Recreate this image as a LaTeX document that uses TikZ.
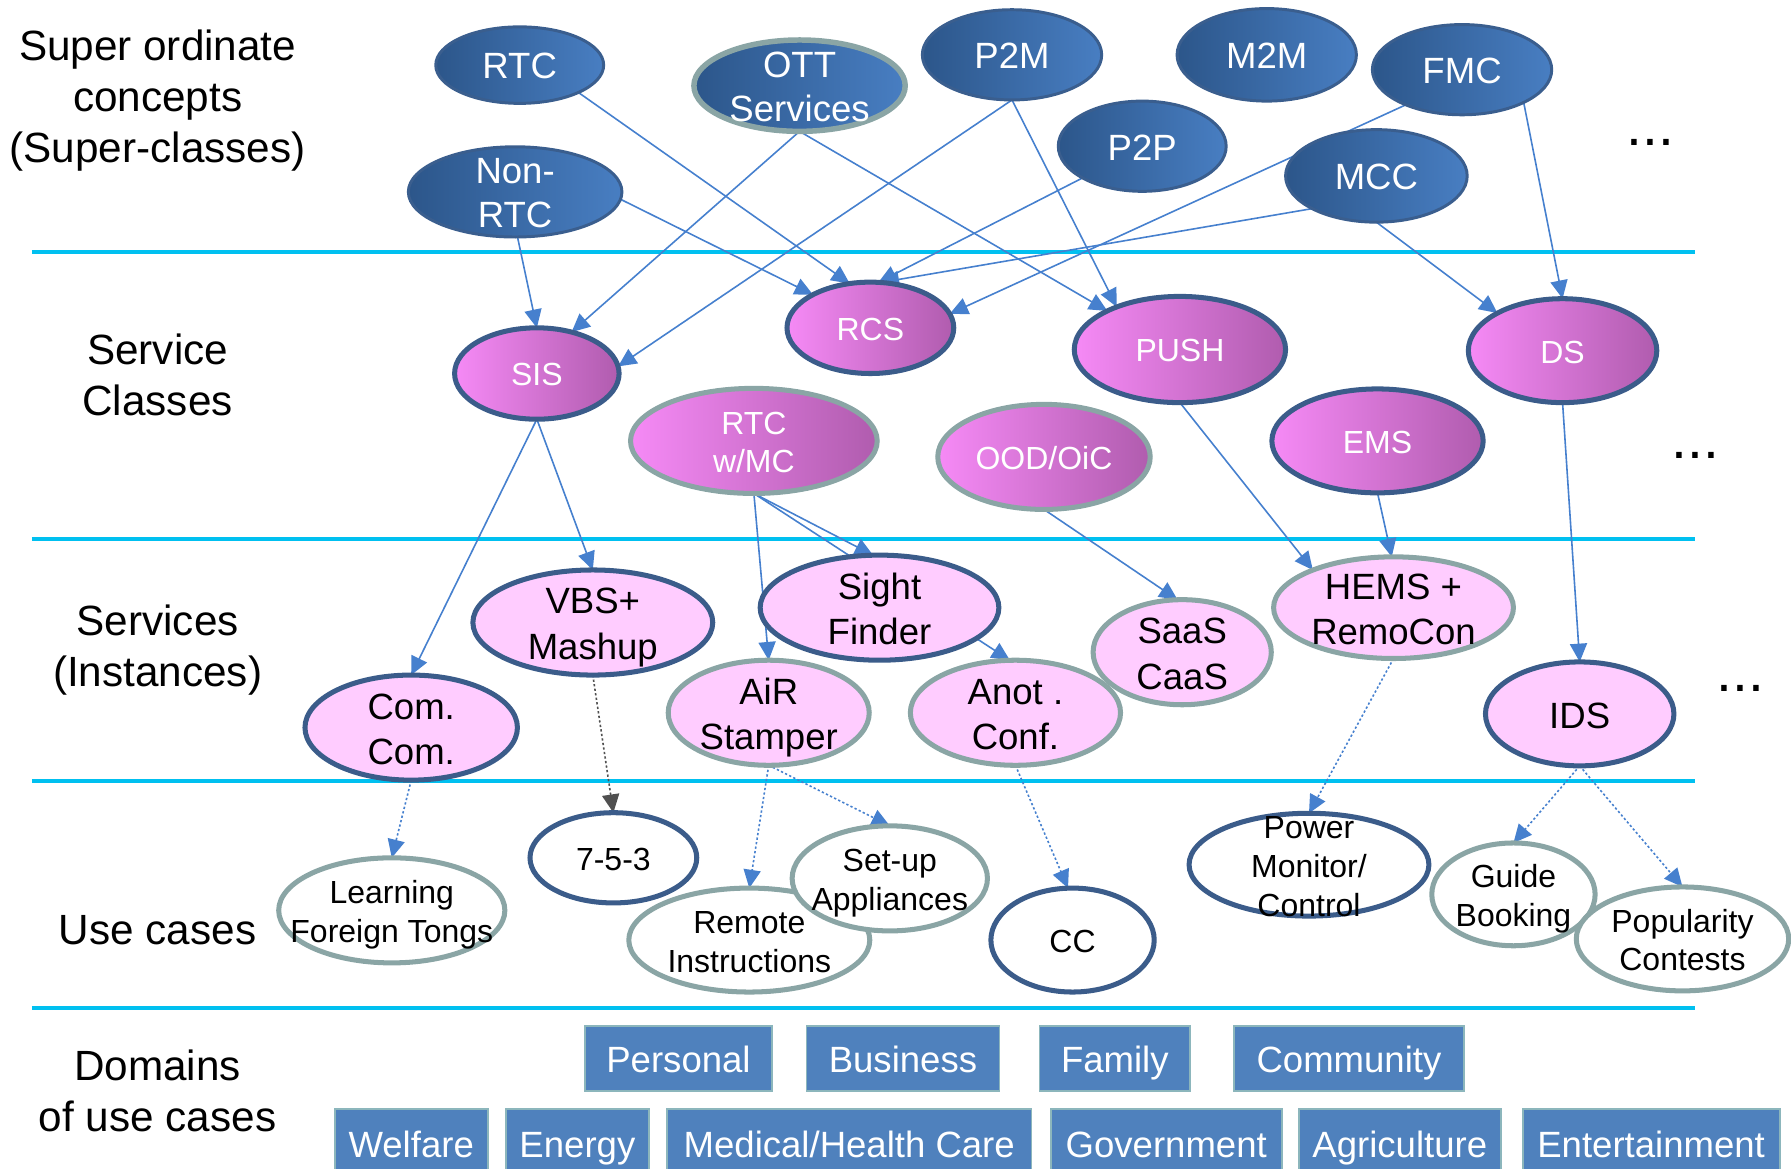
\documentclass[tikz,border=0pt]{standalone}
\usepackage{fontspec}
\setmainfont{Liberation Sans}
\usetikzlibrary{shapes.geometric,arrows.meta}
\pgfdeclarelayer{bg}
\pgfsetlayers{bg,main}
\definecolor{cyanline}{RGB}{0,192,240}
\definecolor{navyL}{RGB}{44,86,138}
\definecolor{navyR}{RGB}{72,126,194}
\definecolor{navyB}{RGB}{58,94,142}
\definecolor{grayB}{RGB}{138,165,165}
\definecolor{magL}{RGB}{246,138,246}
\definecolor{magR}{RGB}{176,92,174}
\definecolor{pinkF}{RGB}{255,204,255}
\definecolor{edgeC}{RGB}{70,128,206}
\definecolor{grayE}{RGB}{80,80,80}
\definecolor{domF}{RGB}{79,129,189}
\definecolor{domB}{RGB}{140,182,188}
\definecolor{darkB}{RGB}{59,92,138}
\newcommand{\nt}[1]{\raisebox{-0.41em}[0pt][0pt]{\makebox[0pt]{\begin{tabular}{@{}c@{}}#1\end{tabular}}}}
\begin{document}
\begin{tikzpicture}[x=0.5pt,y=-0.5pt,
  sz/.style 2 args={minimum width={#1*0.5pt-1.5pt}, minimum height={#2*0.5pt-1.5pt}},
  rsz/.style 2 args={minimum width={#1*0.5pt}, minimum height={#2*0.5pt}},
  base/.style={ellipse, inner sep=0pt, outer sep=0pt},
  concept/.style={base, draw=navyB, line width=1.3pt, left color=navyL, right color=navyR, text=white, font=\fontsize{16}{19}\selectfont},
  cls/.style={base, draw=darkB, line width=2.2pt, left color=magL, right color=magR, text=white, font=\fontsize{14}{16.5}\selectfont},
  svc/.style={base, draw=darkB, line width=2.2pt, fill=pinkF, font=\fontsize{16}{20}\selectfont},
  uc/.style={base, draw=darkB, line width=2.2pt, fill=white, font=\fontsize{14}{17}\selectfont},
  grayrim/.style={draw=grayB},
  dom/.style={rectangle, draw=domB, line width=0.8pt, fill=domF, text=white, inner sep=0pt, font=\fontsize{16}{19}\selectfont},
  lbl/.style={align=center, font=\fontsize{18.5}{22.5}\selectfont},
  moredots/.style={font=\fontsize{25}{25}\selectfont, inner sep=0pt},
  conn/.style={color=edgeC, line width=0.7pt, -{Triangle[length=8pt,width=7.5pt]}},
  dotconn/.style={conn, dash pattern=on 1pt off 1pt},
  layerline/.style={draw=cyanline, line width=1.8pt}]
\useasboundingbox (0,0) rectangle (1568,1023);
\clip (0,0) rectangle (1568,1023);

% left labels
\node[lbl] (lsuper) at (138,88) {Super ordinate\\concepts\\(Super-classes)};
\node[lbl] (lclass) at (138,328) {Service\\Classes};
\node[lbl] (linst) at (138,569) {Services\\(Instances)};
\node[lbl] (luse) at (138,814) {Use cases};
\node[lbl] (ldom) at (138,955) {Domains\\of use cases};

% super-ordinate concepts
\node[concept, sz={150}{70}] (rtc) at (455,57) {\nt{RTC}};
\node[concept, grayrim, line width=2.4pt, sz={188}{83}] (ott) at (700,75) {\nt{OTT\\Services}};
\node[concept, sz={160}{82}] (p2m) at (886,48) {\nt{P2M}};
\node[concept, sz={160}{84}] (m2m) at (1109,48) {\nt{M2M}};
\node[concept, sz={160}{82}] (fmc) at (1280,61) {\nt{FMC}};
\node[concept, sz={150}{82}] (p2p) at (1000,128) {\nt{P2P}};
\node[concept, sz={162}{84}] (mcc) at (1205,154) {\nt{MCC}};
\node[concept, sz={190}{82}] (nonrtc) at (451,168) {\nt{Non-\\RTC}};
\node[moredots] (more1) at (1445,125) {...};

% service classes
\node[cls, sz={147}{83}] (sis) at (470,327) {\nt{SIS}};
\node[cls, sz={149}{83}] (rcs) at (762,287) {\nt{RCS}};
\node[cls, sz={188}{96}] (push) at (1033,306) {\nt{PUSH}};
\node[cls, sz={168}{94}] (ds) at (1368,307) {\nt{DS}};
\node[cls, grayrim, sz={219}{95}] (rtcmc) at (660,386) {\nt{RTC\\w/MC}};
\node[cls, grayrim, sz={189}{95}] (ood) at (914,400) {\nt{OOD/OiC}};
\node[cls, sz={188}{94}] (ems) at (1206,386) {\nt{EMS}};
\node[moredots] (more2) at (1484,399) {...};

% services
\node[svc, sz={213}{95}] (vbs) at (519,545) {\nt{VBS+\\Mashup}};
\node[svc, sz={212}{95}] (sight) at (770,532) {\nt{Sight\\Finder}};
\node[svc, sz={189}{95}] (comcom) at (360,637) {\nt{Com.\\Com.}};
\node[svc, grayrim, sz={179}{95}] (air) at (673,624) {\nt{AiR\\Stamper}};
\node[svc, grayrim, sz={187}{95}] (anot) at (889,624) {\nt{Anot .\\Conf.}};
\node[svc, grayrim, sz={159}{95}] (saas) at (1035,571) {\nt{SaaS\\CaaS}};
\node[svc, grayrim, sz={213}{92}] (hems) at (1220,532) {\nt{HEMS +\\RemoCon}};
\node[svc, sz={168}{94}] (ids) at (1383,625) {\nt{IDS}};
\node[moredots] (more3) at (1524,603) {...};

% use cases
\node[uc, grayrim, sz={201}{95}] (learn) at (343,797) {\nt{Learning\\Foreign Tongs}};
\node[uc, sz={149}{82}] (n753) at (537,751) {\nt{7-5-3}};
\node[uc, grayrim, sz={214}{94}] (remote) at (656,823) {\nt{Remote\\Instructions}};
\node[uc, grayrim, sz={174}{95}] (setup) at (779,769) {\nt{Set-up\\Appliances}};
\node[uc, sz={146}{94}] (cc) at (939,823) {\nt{CC}};
\node[uc, sz={213}{93}] (power) at (1146,757) {\nt{Power\\Monitor/\\Control}};
\node[uc, grayrim, sz={146}{93}] (guide) at (1325,783) {\nt{Guide\\Booking}};
\node[uc, grayrim, sz={189}{94}] (pop) at (1473,822) {\nt{Popularity\\Contests}};

% domains
\node[dom, rsz={164}{57}] (personal) at (594,926.5) {\nt{Personal}};
\node[dom, rsz={169}{57}] (business) at (790.5,926.5) {\nt{Business}};
\node[dom, rsz={132}{57}] (family) at (976,926.5) {\nt{Family}};
\node[dom, rsz={202}{57}] (community) at (1181,926.5) {\nt{Community}};
\node[dom, rsz={134}{60}] (welfare) at (360,1001) {\nt{Welfare}};
\node[dom, rsz={125}{60}] (energy) at (505.5,1001) {\nt{Energy}};
\node[dom, rsz={319}{60}] (medical) at (743.5,1001) {\nt{Medical/Health Care}};
\node[dom, rsz={202}{60}] (government) at (1021,1001) {\nt{Government}};
\node[dom, rsz={177}{60}] (agriculture) at (1225.5,1001) {\nt{Agriculture}};
\node[dom, rsz={225}{60}] (entertainment) at (1445.5,1001) {\nt{Entertainment}};

\begin{pgfonlayer}{bg}
\draw[layerline] (28,220.3) -- (1484,220.3);
\draw[layerline] (28,472.2) -- (1484,472.2);
\draw[layerline] (28,683.5) -- (1484,683.5);
\draw[layerline] (28,882.5) -- (1484,882.5);

\draw[conn] (rtc.-25) -- (rcs.115);
\draw[conn] (ott.south) -- (sis.50);
\draw[conn] (ott.south) -- (push.152);
\draw[conn] (p2m.south) -- (sis.5);
\draw[conn] (p2m.south) -- (push.146);
\draw[conn] (p2p.-152) -- (rcs.80);
\draw[conn] (mcc.-153) -- (rcs.77);
\draw[conn] (fmc.-148) -- (rcs.10);
\draw[conn] (mcc.south) -- (ds.150);
\draw[conn] (fmc.-28) -- (ds.north);
\draw[conn] (nonrtc.-4) -- (rcs.150);
\draw[conn] (nonrtc.-87) -- (sis.north);

\draw[conn] (sis.south) -- (comcom.north);
\draw[conn] (sis.south) -- (vbs.north);
\draw[conn] (rtcmc.south) -- (sight.97);
\draw[conn] (rtcmc.south) -- (air.north);
\draw[conn] (rtcmc.south) -- (anot.96);
\draw[conn] (ood.south) -- (saas.95);
\draw[conn] (push.south) -- (hems.155);
\draw[conn] (ems.south) -- (hems.92);
\draw[conn] (ds.south) -- (ids.north);

\draw[dotconn] (comcom.south) -- (learn.north);
\draw[dotconn, color=grayE] (vbs.south) -- (n753.north);
\draw[dotconn] (air.south) -- (remote.north);
\draw[dotconn] (air.south) -- (setup.north);
\draw[dotconn] (anot.south) -- (cc.95);
\draw[dotconn] (hems.south) -- (power.north);
\draw[dotconn] (ids.south) -- (guide.north);
\draw[dotconn] (ids.south) -- (pop.north);
\end{pgfonlayer}
\end{tikzpicture}
\end{document}
